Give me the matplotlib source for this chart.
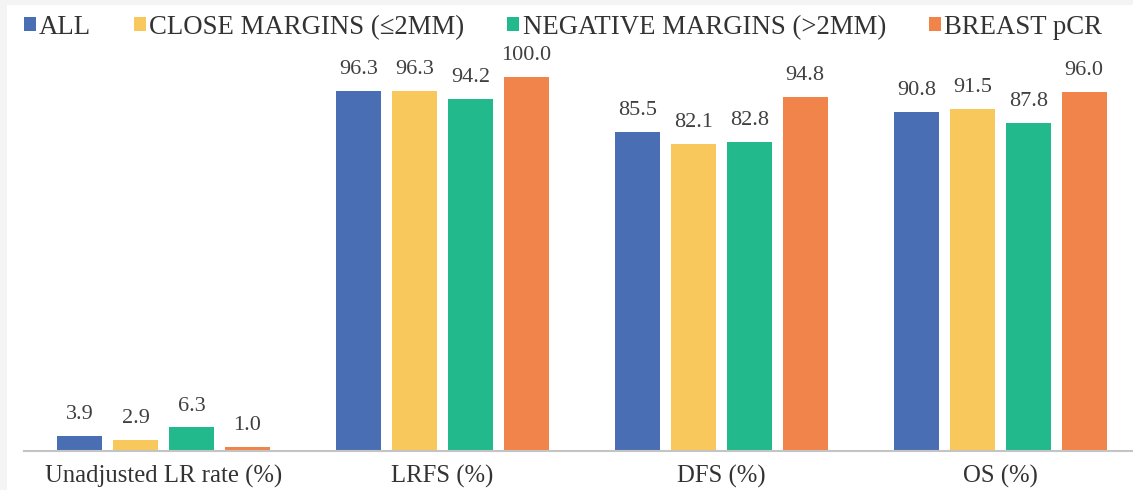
import matplotlib.pyplot as plt
import numpy as np
from matplotlib.patches import Rectangle

plt.rcParams["font.family"] = ["Liberation Serif", "DejaVu Serif"]

categories = ["Unadjusted LR rate (%)", "LRFS (%)", "DFS (%)", "OS (%)"]
series_names = ["ALL", "CLOSE MARGINS (\u22642MM)", "NEGATIVE MARGINS (>2MM)", "BREAST pCR"]
all_pts = [3.9, 96.3, 85.5, 90.8]
close_margins = [2.9, 96.3, 82.1, 91.5]
negative_margins = [6.3, 94.2, 82.8, 87.8]
breast_pcr = [1.0, 100.0, 94.8, 96.0]

series = [all_pts, close_margins, negative_margins, breast_pcr]
colors = ["#4a6eb4", "#f9c85c", "#22b98c", "#f0844a"]

W, H = 1133, 490
fig = plt.figure(figsize=(W / 100, H / 100), dpi=100)
fig.patch.set_facecolor("#f4f4f4")
# white panel inside the thin grey frame (left and top edges)
fig.add_artist(Rectangle((7 / W, 0), 1 - 7 / W, 1 - 5 / H,
                         transform=fig.transFigure, facecolor="white",
                         edgecolor="none", zorder=-10))

ax = fig.add_axes([24 / W, 39 / H, (W - 24) / W, 411 / H])
ax.patch.set_alpha(0)

x = np.arange(len(categories))
width = 0.16
step = 0.2
for i, (vals, name, col) in enumerate(zip(series, series_names, colors)):
    pos = x + (i - 1.5) * step
    bars = ax.bar(pos, vals, width=width, color=col, label=name, zorder=2)
    for b, v in zip(bars, vals):
        ax.text(b.get_x() + b.get_width() / 2, v + 3.2, f"{v:.1f}",
                ha="center", va="bottom", fontsize=16, color="#404040")

ax.set_xlim(-0.5, -0.5 + (W - 24) / 279)
ax.set_ylim(0, 110)
ax.set_xticks(x)
ax.set_xticklabels(categories, fontsize=17.8, color="#333333")
ax.tick_params(axis="x", length=0, pad=10)
ax.set_yticks([])
for side in ["top", "right", "left"]:
    ax.spines[side].set_visible(False)
ax.spines["bottom"].set_color("#c4c4c4")
ax.spines["bottom"].set_linewidth(1.5)

leg = fig.legend(loc="upper left", bbox_to_anchor=(13 / W, 1 - 4 / H), ncol=4,
                 frameon=False, fontsize=19.3, handlelength=0.45, handleheight=0.45,
                 handletextpad=0.12, columnspacing=1.6, borderaxespad=0)
for t in leg.get_texts():
    t.set_color("#333333")

fig.savefig("out.png", dpi=100, facecolor=fig.get_facecolor())
